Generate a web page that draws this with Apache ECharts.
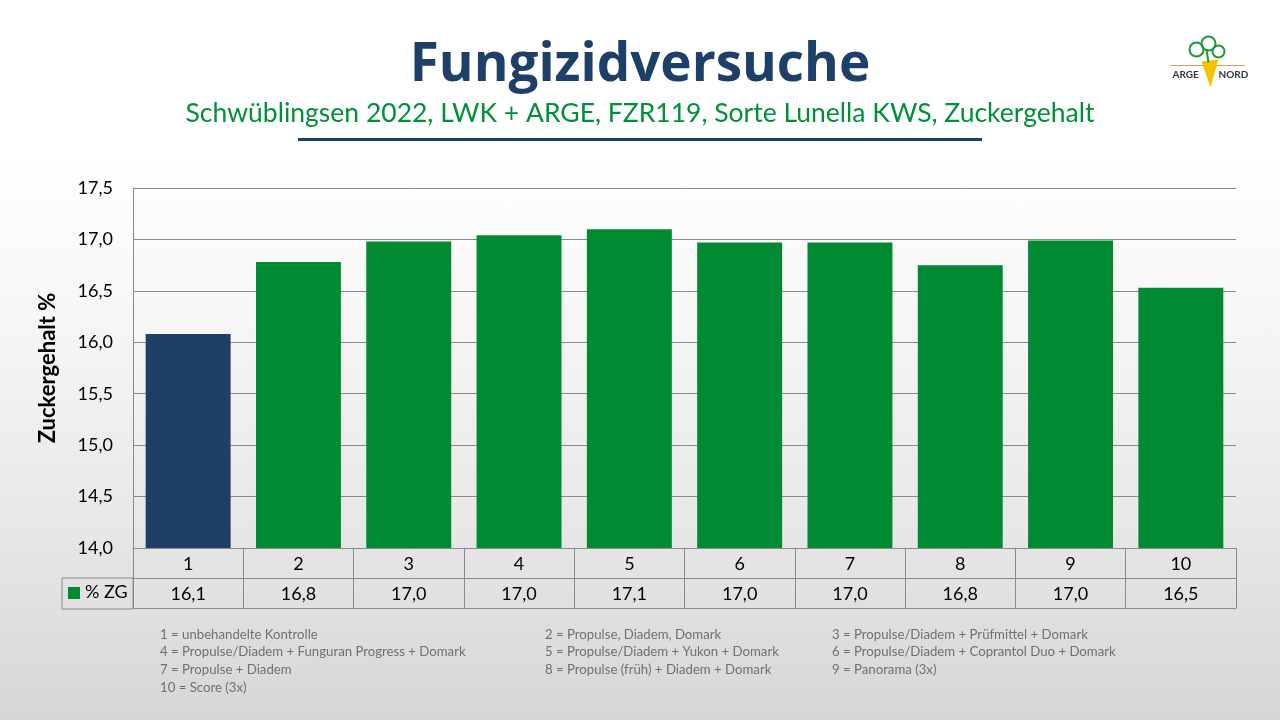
<!DOCTYPE html>
<html>
<head>
<meta charset="utf-8">
<script src="https://cdn.jsdelivr.net/npm/echarts@6/dist/echarts.min.js"></script>
<style>
  html, body { margin: 0; padding: 0; }
  body {
    width: 1280px; height: 720px; overflow: hidden;
    background: linear-gradient(to bottom, #ffffff 0%, #ffffff 22%, #f6f6f6 45%, #e6e6e6 75%, #d6d6d6 100%);
  }
  #chart { width: 1280px; height: 720px; }
</style>
</head>
<body>
<div id="chart"></div>
<script>
'use strict';

// Versuchsglieder und Zuckergehalt (%)
var categories = ['1', '2', '3', '4', '5', '6', '7', '8', '9', '10'];
var zgValues = [16.08, 16.78, 16.98, 17.04, 17.10, 16.97, 16.97, 16.75, 16.99, 16.53];
var yTicks = { min: 14, max: 17.5, interval: 0.5 };

var titleText = 'Fungizidversuche';
var subtitleText = 'Schwüblingsen 2022, LWK + ARGE, FZR119, Sorte Lunella KWS, Zuckergehalt';
var seriesName = '% ZG';
var yName = 'Zuckergehalt %';

var notes = [
    '1 = unbehandelte Kontrolle',
    '2 = Propulse, Diadem, Domark',
    '3 = Propulse/Diadem + Prüfmittel + Domark',
    '4 = Propulse/Diadem + Funguran Progress + Domark',
    '5 = Propulse/Diadem + Yukon + Domark',
    '6 = Propulse/Diadem + Coprantol Duo + Domark',
    '7 = Propulse + Diadem',
    '8 = Propulse (früh) + Diadem + Domark',
    '9 = Panorama (3x)',
    '10 = Score (3x)'
];

var BLUE = '#1e4068';
var GREEN = '#008a32';
var LINE = '#8a8a8a';
var FONT = 'Lato, "Open Sans", sans-serif';

function fmt(v) {
    return v.toFixed(1).replace('.', ',');
}

// layout of plot / table
var gridLeft = 133, gridRight = 44, gridTop = 188, gridBottom = 172;
var rowH = 30;
var plotBottom = 720 - gridBottom;

var chart = echarts.init(document.getElementById('chart'), null, { renderer: 'canvas' });

var noteColX = [160, 545, 832];
var noteGraphics = notes.map(function (t, i) {
    return {
        type: 'text',
        left: noteColX[i % 3],
        top: 628 + Math.floor(i / 3) * 17.7,
        style: { text: t, fill: '#707070', font: '13.2px ' + FONT }
    };
});

var barData = zgValues.map(function (v, i) {
    return { value: v, itemStyle: { color: i === 0 ? BLUE : GREEN } };
});

var option = {
    animation: false,
    textStyle: { fontFamily: FONT },
    title: [{
        text: titleText,
        left: 'center',
        top: 34,
        textStyle: { color: BLUE, fontSize: 53, fontWeight: 'bold', fontFamily: '"Open Sans", Lato, sans-serif' }
    }, {
        text: subtitleText,
        left: 'center',
        top: 95,
        textStyle: { color: '#00903a', fontSize: 26.5, fontWeight: 'normal', fontFamily: FONT }
    }],
    grid: { left: gridLeft, right: gridRight, top: gridTop, bottom: gridBottom },
    xAxis: [{
        type: 'category',
        data: categories,
        axisLine: { show: true, lineStyle: { color: LINE } },
        axisTick: { show: true, interval: 0, length: rowH * 2, lineStyle: { color: LINE } },
        axisLabel: { color: '#000', fontSize: 18, margin: 7, interval: 0 }
    }, {
        type: 'category',
        data: zgValues.map(fmt),
        position: 'bottom',
        offset: rowH,
        axisLine: { show: true, lineStyle: { color: LINE } },
        axisTick: { show: false },
        axisLabel: { color: '#000', fontSize: 18, margin: 7, interval: 0 }
    }, {
        type: 'category',
        data: categories,
        position: 'bottom',
        offset: rowH * 2,
        axisLine: { show: true, lineStyle: { color: LINE } },
        axisTick: { show: false },
        axisLabel: { show: false }
    }],
    yAxis: {
        type: 'value',
        min: yTicks.min,
        max: yTicks.max,
        interval: yTicks.interval,
        name: yName,
        nameLocation: 'middle',
        nameGap: 74,
        nameTextStyle: { color: '#000', fontSize: 22, fontWeight: 'bold' },
        axisLine: { show: true, lineStyle: { color: LINE } },
        axisTick: { show: false },
        axisLabel: { color: '#000', fontSize: 18, margin: 20, formatter: fmt },
        splitLine: { lineStyle: { color: LINE, width: 1 } }
    },
    series: [{
        name: seriesName,
        type: 'bar',
        xAxisIndex: 0,
        data: barData,
        barCategoryGap: '23%',
        itemStyle: { color: GREEN }
    }],
    graphic: [
        // underline under title
        { type: 'rect', shape: { x: 298, y: 138, width: 684, height: 3 }, style: { fill: BLUE } },
        // legend cell of the data table
        {
            type: 'rect',
            shape: { x: 62, y: plotBottom + rowH, width: gridLeft - 62, height: rowH + 1 },
            style: { fill: 'none', stroke: LINE, lineWidth: 1 }
        },
        { type: 'rect', shape: { x: 68, y: plotBottom + rowH + 9, width: 12, height: 12 }, style: { fill: GREEN } },
        {
            type: 'text', left: 85, top: plotBottom + rowH + 5,
            style: { text: seriesName, fill: '#000', font: '18px ' + FONT }
        },
        // ARGE NORD logo
        {
            type: 'group', left: 1168, top: 34,
            children: [
                { type: 'line', shape: { x1: 2, y1: 30, x2: 76, y2: 30 }, style: { stroke: '#c8a070', lineWidth: 1 } },
                { type: 'polygon', shape: { points: [[33, 26], [50, 24], [42, 52]] }, style: { fill: '#f5c400' } },
                { type: 'circle', shape: { cx: 28, cy: 14, r: 7 }, style: { fill: 'none', stroke: '#1e9a3c', lineWidth: 2 } },
                { type: 'circle', shape: { cx: 40, cy: 8, r: 7 }, style: { fill: 'none', stroke: '#1e9a3c', lineWidth: 2 } },
                { type: 'circle', shape: { cx: 50, cy: 16, r: 6 }, style: { fill: 'none', stroke: '#1e9a3c', lineWidth: 2 } },
                { type: 'line', shape: { x1: 38, y1: 14, x2: 40, y2: 27 }, style: { stroke: '#1e9a3c', lineWidth: 2 } },
                { type: 'text', left: 4, top: 34, style: { text: 'ARGE', fill: '#333', font: 'bold 10px ' + FONT } },
                { type: 'text', left: 50, top: 34, style: { text: 'NORD', fill: '#333', font: 'bold 10px ' + FONT } }
            ]
        }
    ].concat(noteGraphics)
};

chart.setOption(option);
</script>
</body>
</html>
